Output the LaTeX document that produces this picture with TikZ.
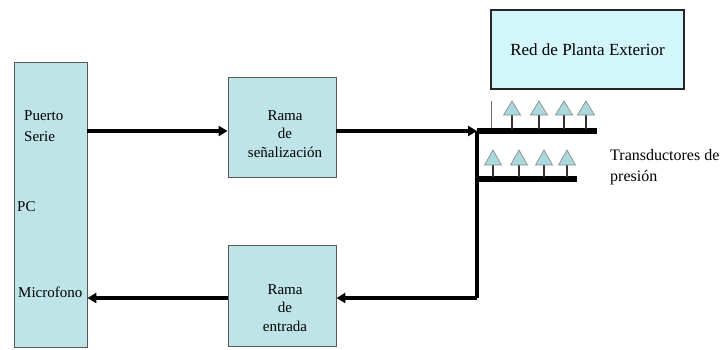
\documentclass[tikz,border=0pt]{standalone}
\usepackage{fontspec}
\setmainfont{Liberation Serif}
\usetikzlibrary{arrows.meta}
\definecolor{boxblue}{HTML}{BEE4E8}
\definecolor{redblue}{HTML}{D2F6F9}
\definecolor{triblue}{HTML}{A9D9DD}
\begin{document}
\begin{tikzpicture}[x=1pt,y=-1pt,
  blk/.style={draw=black!65, line width=0.9pt, fill=boxblue, inner sep=0pt},
  txt/.style={font=\fontsize{15}{18.5}\selectfont, align=center, inner sep=0pt},
  conn/.style={line width=3.3pt, -{Triangle[length=9pt,width=10pt]}},
  bar/.style={line width=5.5pt},
  tri/.style={draw=black!45, fill=triblue, line width=0.7pt},
  stem/.style={line width=1.5pt, black!80}
]
\useasboundingbox (0,0) rectangle (725,349);

% PC box
\node[blk, minimum width=73pt, minimum height=285pt] (pc) at (50.5,204.5) {};
\node[txt, font=\fontsize{15}{21}\selectfont, align=left, anchor=west] (ps) at (24,126) {Puerto\\Serie};
\node[txt, anchor=west] (pclbl) at (17,207) {PC};
\node[txt, anchor=west] (mic) at (18,292) {Microfono};

% Rama de señalización
\node[blk, minimum width=108pt, minimum height=100pt] (rs) at (282,127) {};
\node[txt] (rstxt) at (285,134) {Rama\\de\\señalización};

% Rama de entrada
\node[blk, minimum width=108pt, minimum height=101pt] (re) at (282,296) {};
\node[txt] (retxt) at (285,308) {Rama\\de\\entrada};

% Red de Planta Exterior
\node[draw=black!85, line width=1.2pt, fill=redblue, minimum width=193pt, minimum height=79pt, inner sep=0pt,
      font=\fontsize{17}{19}\selectfont] (red) at (587.5,49.5) {Red de Planta Exterior};

% Transductores label
\node[txt, font=\fontsize{16}{21}\selectfont, align=left, anchor=west] (tl) at (610,167) {Transductores de\\presión};

% junction coordinates
\coordinate (j) at (477,131);
\coordinate (jb) at (477,298);
\coordinate (ub) at (597,131);
\coordinate (lj) at (477,179);
\coordinate (lb) at (577,179);

% bars
\draw[bar] (j) -- (ub);
\draw[bar] (lj) -- (lb);
\draw[line width=3.3pt] (j) -- (jb);
\draw[black!55, line width=0.8pt] (491,101) -- (491,128);

% triangles upper
\foreach \x in {512,539,564,586}{
  \draw[stem] (\x,115) -- (\x,129);
  \draw[tri] (\x,101) -- (\x+8.5,115) -- (\x-8.5,115) -- cycle;
}
% triangles lower
\foreach \x in {493,519,544,567}{
  \draw[stem] (\x,165) -- (\x,177);
  \draw[tri] (\x,150) -- (\x+8.5,165) -- (\x-8.5,165) -- cycle;
}

% connectors
\draw[conn] (pc.east |- j) -- (rs.west |- j);
\draw[conn] (rs.east |- j) -- (j);
\draw[conn] (jb) -- (jb -| re.east);
\draw[conn] (re.west |- jb) -- (jb -| pc.east);
\end{tikzpicture}
\end{document}
